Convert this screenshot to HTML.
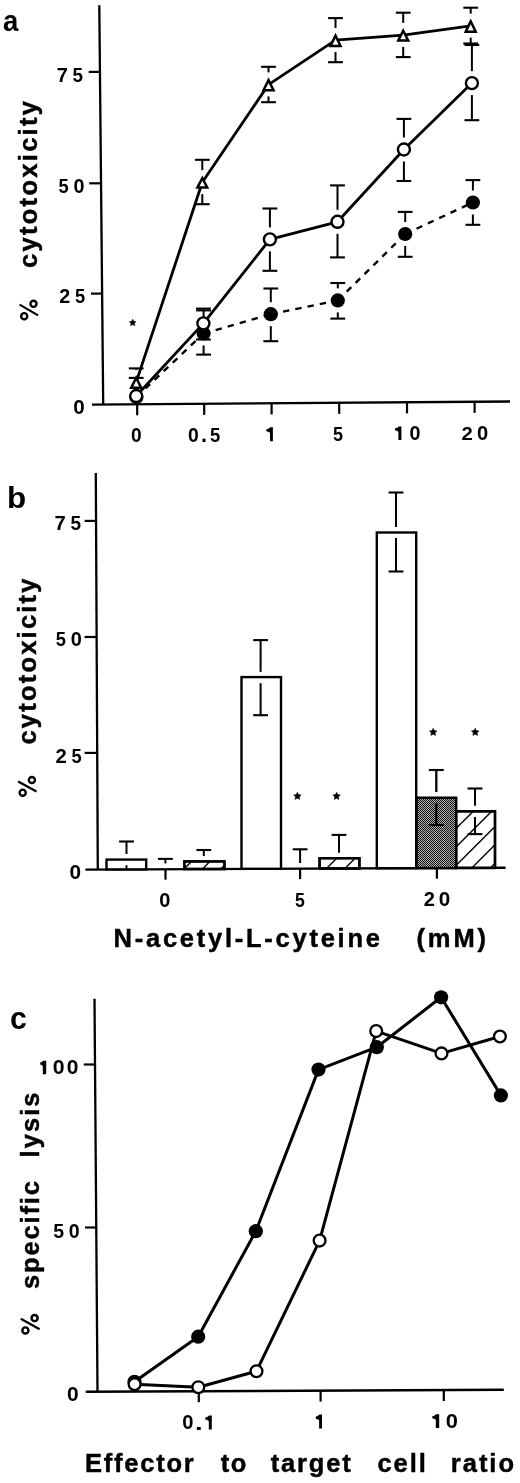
<!DOCTYPE html>
<html><head><meta charset="utf-8"><style>
html,body{margin:0;padding:0;background:#fff;}
body{width:520px;height:1483px;overflow:hidden;}
svg{display:block;will-change:transform;}
text{font-family:"Liberation Sans",sans-serif;font-weight:bold;fill:#000;stroke:#000;stroke-width:0.45px;}
</style></head><body>
<svg width="520" height="1483" viewBox="0 0 520 1483" font-family="Liberation Sans" font-weight="bold"><defs><pattern id="stip" patternUnits="userSpaceOnUse" x="0" y="0" width="2" height="2"><rect width="2" height="2" fill="#b0b0b0"/><rect width="1" height="1" fill="#111"/><rect x="1" y="1" width="1" height="1" fill="#111"/></pattern></defs><line x1="99.30" y1="5.20" x2="103.20" y2="404.60" stroke="#000" stroke-width="2.3" />
<line x1="92.00" y1="404.60" x2="510.00" y2="401.50" stroke="#000" stroke-width="2.4" />
<line x1="88.70" y1="71.90" x2="100.20" y2="71.90" stroke="#000" stroke-width="2.2" />
<line x1="89.20" y1="183.30" x2="100.80" y2="183.30" stroke="#000" stroke-width="2.2" />
<line x1="91.00" y1="293.60" x2="102.50" y2="293.60" stroke="#000" stroke-width="2.2" />
<line x1="137.20" y1="404.30" x2="137.20" y2="415.30" stroke="#000" stroke-width="2.2" />
<line x1="204.20" y1="403.90" x2="204.20" y2="414.90" stroke="#000" stroke-width="2.2" />
<line x1="271.60" y1="403.40" x2="271.60" y2="414.40" stroke="#000" stroke-width="2.2" />
<line x1="339.20" y1="402.90" x2="339.20" y2="413.90" stroke="#000" stroke-width="2.2" />
<line x1="407.00" y1="402.40" x2="407.00" y2="413.40" stroke="#000" stroke-width="2.2" />
<line x1="474.60" y1="401.90" x2="474.60" y2="412.90" stroke="#000" stroke-width="2.2" />
<line x1="136.20" y1="368.40" x2="136.20" y2="369.95" stroke="#000" stroke-width="2.0" />
<line x1="128.80" y1="368.40" x2="143.60" y2="368.40" stroke="#000" stroke-width="2.1" />
<line x1="202.30" y1="159.80" x2="202.30" y2="170.10" stroke="#000" stroke-width="2.0" />
<line x1="194.90" y1="159.80" x2="209.70" y2="159.80" stroke="#000" stroke-width="2.1" />
<line x1="202.30" y1="194.10" x2="202.30" y2="204.20" stroke="#000" stroke-width="2.0" />
<line x1="194.90" y1="204.20" x2="209.70" y2="204.20" stroke="#000" stroke-width="2.1" />
<line x1="268.50" y1="66.80" x2="268.50" y2="72.40" stroke="#000" stroke-width="2.0" />
<line x1="261.10" y1="66.80" x2="275.90" y2="66.80" stroke="#000" stroke-width="2.1" />
<line x1="268.50" y1="96.40" x2="268.50" y2="102.20" stroke="#000" stroke-width="2.0" />
<line x1="261.10" y1="102.20" x2="275.90" y2="102.20" stroke="#000" stroke-width="2.1" />
<line x1="335.50" y1="18.10" x2="335.50" y2="28.00" stroke="#000" stroke-width="2.0" />
<line x1="328.10" y1="18.10" x2="342.90" y2="18.10" stroke="#000" stroke-width="2.1" />
<line x1="335.50" y1="52.00" x2="335.50" y2="62.20" stroke="#000" stroke-width="2.0" />
<line x1="328.10" y1="62.20" x2="342.90" y2="62.20" stroke="#000" stroke-width="2.1" />
<line x1="403.20" y1="12.70" x2="403.20" y2="22.90" stroke="#000" stroke-width="2.0" />
<line x1="395.80" y1="12.70" x2="410.60" y2="12.70" stroke="#000" stroke-width="2.1" />
<line x1="403.20" y1="46.90" x2="403.20" y2="57.10" stroke="#000" stroke-width="2.0" />
<line x1="395.80" y1="57.10" x2="410.60" y2="57.10" stroke="#000" stroke-width="2.1" />
<line x1="470.70" y1="7.70" x2="470.70" y2="13.65" stroke="#000" stroke-width="2.0" />
<line x1="463.30" y1="7.70" x2="478.10" y2="7.70" stroke="#000" stroke-width="2.1" />
<line x1="470.70" y1="37.65" x2="470.70" y2="43.50" stroke="#000" stroke-width="2.0" />
<line x1="463.30" y1="43.50" x2="478.10" y2="43.50" stroke="#000" stroke-width="2.1" />
<line x1="136.20" y1="377.90" x2="136.20" y2="384.00" stroke="#000" stroke-width="2.0" />
<line x1="128.80" y1="377.90" x2="143.60" y2="377.90" stroke="#000" stroke-width="2.1" />
<line x1="203.40" y1="308.60" x2="203.40" y2="311.40" stroke="#000" stroke-width="2.0" />
<line x1="196.00" y1="308.60" x2="210.80" y2="308.60" stroke="#000" stroke-width="2.1" />
<line x1="203.40" y1="335.40" x2="203.40" y2="339.50" stroke="#000" stroke-width="2.0" />
<line x1="196.00" y1="339.50" x2="210.80" y2="339.50" stroke="#000" stroke-width="2.1" />
<line x1="269.90" y1="208.50" x2="269.90" y2="227.40" stroke="#000" stroke-width="2.0" />
<line x1="262.50" y1="208.50" x2="277.30" y2="208.50" stroke="#000" stroke-width="2.1" />
<line x1="269.90" y1="251.40" x2="269.90" y2="270.80" stroke="#000" stroke-width="2.0" />
<line x1="262.50" y1="270.80" x2="277.30" y2="270.80" stroke="#000" stroke-width="2.1" />
<line x1="337.50" y1="185.40" x2="337.50" y2="209.80" stroke="#000" stroke-width="2.0" />
<line x1="330.10" y1="185.40" x2="344.90" y2="185.40" stroke="#000" stroke-width="2.1" />
<line x1="337.50" y1="233.80" x2="337.50" y2="257.40" stroke="#000" stroke-width="2.0" />
<line x1="330.10" y1="257.40" x2="344.90" y2="257.40" stroke="#000" stroke-width="2.1" />
<line x1="403.90" y1="118.90" x2="403.90" y2="137.50" stroke="#000" stroke-width="2.0" />
<line x1="396.50" y1="118.90" x2="411.30" y2="118.90" stroke="#000" stroke-width="2.1" />
<line x1="403.90" y1="161.50" x2="403.90" y2="181.00" stroke="#000" stroke-width="2.0" />
<line x1="396.50" y1="181.00" x2="411.30" y2="181.00" stroke="#000" stroke-width="2.1" />
<line x1="471.90" y1="45.00" x2="471.90" y2="71.10" stroke="#000" stroke-width="2.0" />
<line x1="464.50" y1="45.00" x2="479.30" y2="45.00" stroke="#000" stroke-width="2.1" />
<line x1="471.90" y1="95.10" x2="471.90" y2="120.20" stroke="#000" stroke-width="2.0" />
<line x1="464.50" y1="120.20" x2="479.30" y2="120.20" stroke="#000" stroke-width="2.1" />
<line x1="203.60" y1="310.40" x2="203.60" y2="321.50" stroke="#000" stroke-width="2.0" />
<line x1="196.20" y1="310.40" x2="211.00" y2="310.40" stroke="#000" stroke-width="2.1" />
<line x1="203.60" y1="345.50" x2="203.60" y2="354.60" stroke="#000" stroke-width="2.0" />
<line x1="196.20" y1="354.60" x2="211.00" y2="354.60" stroke="#000" stroke-width="2.1" />
<line x1="270.80" y1="288.50" x2="270.80" y2="302.20" stroke="#000" stroke-width="2.0" />
<line x1="263.40" y1="288.50" x2="278.20" y2="288.50" stroke="#000" stroke-width="2.1" />
<line x1="270.80" y1="326.20" x2="270.80" y2="341.20" stroke="#000" stroke-width="2.0" />
<line x1="263.40" y1="341.20" x2="278.20" y2="341.20" stroke="#000" stroke-width="2.1" />
<line x1="337.80" y1="283.00" x2="337.80" y2="288.40" stroke="#000" stroke-width="2.0" />
<line x1="330.40" y1="283.00" x2="345.20" y2="283.00" stroke="#000" stroke-width="2.1" />
<line x1="337.80" y1="312.40" x2="337.80" y2="318.60" stroke="#000" stroke-width="2.0" />
<line x1="330.40" y1="318.60" x2="345.20" y2="318.60" stroke="#000" stroke-width="2.1" />
<line x1="405.20" y1="211.90" x2="405.20" y2="222.00" stroke="#000" stroke-width="2.0" />
<line x1="397.80" y1="211.90" x2="412.60" y2="211.90" stroke="#000" stroke-width="2.1" />
<line x1="405.20" y1="246.00" x2="405.20" y2="256.80" stroke="#000" stroke-width="2.0" />
<line x1="397.80" y1="256.80" x2="412.60" y2="256.80" stroke="#000" stroke-width="2.1" />
<line x1="472.90" y1="180.10" x2="472.90" y2="190.50" stroke="#000" stroke-width="2.0" />
<line x1="465.50" y1="180.10" x2="480.30" y2="180.10" stroke="#000" stroke-width="2.1" />
<line x1="472.90" y1="214.50" x2="472.90" y2="224.80" stroke="#000" stroke-width="2.0" />
<line x1="465.50" y1="224.80" x2="480.30" y2="224.80" stroke="#000" stroke-width="2.1" />
<line x1="136.40" y1="397.00" x2="203.60" y2="333.50" stroke="#000" stroke-width="2.4" stroke-dasharray="6.4 6.1"/>
<line x1="203.60" y1="333.50" x2="270.80" y2="314.20" stroke="#000" stroke-width="2.4" stroke-dasharray="6.4 6.1"/>
<line x1="270.80" y1="314.20" x2="337.80" y2="300.40" stroke="#000" stroke-width="2.4" stroke-dasharray="6.4 6.1"/>
<line x1="337.80" y1="300.40" x2="405.20" y2="234.00" stroke="#000" stroke-width="2.4" stroke-dasharray="6.4 6.1"/>
<line x1="405.20" y1="234.00" x2="472.90" y2="202.50" stroke="#000" stroke-width="2.4" stroke-dasharray="6.4 6.1"/>
<circle cx="136.40" cy="397.00" r="7.1" fill="#000"/>
<circle cx="203.60" cy="333.50" r="7.1" fill="#000"/>
<circle cx="270.80" cy="314.20" r="7.1" fill="#000"/>
<circle cx="337.80" cy="300.40" r="7.1" fill="#000"/>
<circle cx="405.20" cy="234.00" r="7.1" fill="#000"/>
<circle cx="472.90" cy="202.50" r="7.1" fill="#000"/>
<polyline points="136.20,396.00 203.40,323.40 269.90,239.40 337.50,221.80 403.90,149.50 471.90,83.10" fill="none" stroke="#000" stroke-width="2.8" stroke-linejoin="round" />
<polyline points="136.20,382.15 202.30,182.30 268.50,84.60 335.50,40.20 403.20,35.10 470.70,25.85" fill="none" stroke="#000" stroke-width="2.8" stroke-linejoin="round" />
<circle cx="136.20" cy="396.00" r="6.0" fill="#fff" stroke="#000" stroke-width="2.4"/>
<circle cx="203.40" cy="323.40" r="6.0" fill="#fff" stroke="#000" stroke-width="2.4"/>
<circle cx="269.90" cy="239.40" r="6.0" fill="#fff" stroke="#000" stroke-width="2.4"/>
<circle cx="337.50" cy="221.80" r="6.0" fill="#fff" stroke="#000" stroke-width="2.4"/>
<circle cx="403.90" cy="149.50" r="6.0" fill="#fff" stroke="#000" stroke-width="2.4"/>
<circle cx="471.90" cy="83.10" r="6.0" fill="#fff" stroke="#000" stroke-width="2.4"/>
<polygon points="136.20,375.00 129.20,388.90 143.20,388.90" fill="#000"/>
<polygon points="136.20,380.56 133.26,386.40 139.14,386.40" fill="#fff"/>
<polygon points="202.30,175.40 195.30,188.80 209.30,188.80" fill="#000"/>
<polygon points="202.30,180.80 199.43,186.30 205.17,186.30" fill="#fff"/>
<polygon points="268.50,77.30 261.50,91.50 275.50,91.50" fill="#000"/>
<polygon points="268.50,82.95 265.52,89.00 271.48,89.00" fill="#fff"/>
<polygon points="335.50,32.80 328.50,47.20 342.50,47.20" fill="#000"/>
<polygon points="335.50,38.52 332.50,44.70 338.50,44.70" fill="#fff"/>
<polygon points="403.20,28.00 396.20,41.80 410.20,41.80" fill="#000"/>
<polygon points="403.20,33.53 400.27,39.30 406.13,39.30" fill="#fff"/>
<polygon points="470.70,18.40 463.70,32.90 477.70,32.90" fill="#000"/>
<polygon points="470.70,24.15 467.68,30.40 473.72,30.40" fill="#fff"/>
<polygon points="132.70,319.15 133.76,321.29 136.12,321.64 134.41,323.31 134.82,325.66 132.70,324.55 130.58,325.66 130.99,323.31 129.28,321.64 131.64,321.29" fill="#000" stroke="#000" stroke-width="0.5" stroke-linejoin="round"/>
<text transform="translate(2.99,31.21) scale(0.9154,1)" font-size="30.12" style="stroke-width:0.0px">a</text>
<text transform="translate(56.84,82.00) scale(1.0134,1)" font-size="19.77" style="stroke-width:0.0px">7</text>
<text transform="translate(72.62,82.11) scale(0.9484,1)" font-size="19.92" style="stroke-width:0.0px">5</text>
<text transform="translate(58.44,192.61) scale(0.9247,1)" font-size="19.78" style="stroke-width:0.0px">5</text>
<text transform="translate(73.42,192.60) scale(0.9718,1)" font-size="20.34" style="stroke-width:0.0px">0</text>
<text transform="translate(59.32,303.20) scale(0.9984,1)" font-size="19.76" style="stroke-width:0.0px">2</text>
<text transform="translate(74.94,303.31) scale(0.9181,1)" font-size="19.92" style="stroke-width:0.0px">5</text>
<text transform="translate(73.29,413.61) scale(1.0421,1)" font-size="19.77" style="stroke-width:0.0px">0</text>
<text transform="translate(130.94,441.81) scale(0.9677,1)" font-size="19.77" style="stroke-width:0.0px">0</text>
<text transform="translate(187.93,441.51) scale(0.9853,1)" font-size="19.63" style="stroke-width:0.0px">0</text>
<text transform="translate(201.01,441.70) scale(1.0224,1)" font-size="21.49" style="stroke-width:0.0px">.</text>
<text transform="translate(210.03,441.51) scale(0.9282,1)" font-size="19.92" style="stroke-width:0.0px">5</text>
<path d="M272.90,441.20 L270.00,441.20 L270.00,432.80 C269.20,431.96 267.20,431.40 266.40,431.26 L266.40,429.16 C268.20,428.88 269.70,428.04 270.20,427.20 L272.90,427.20 Z" fill="#000" stroke="#000" stroke-width="0.0"/>
<text transform="translate(333.04,440.50) scale(0.8951,1)" font-size="20.21" style="stroke-width:0.0px">5</text>
<path d="M401.40,440.00 L398.40,440.00 L398.40,431.84 C397.60,431.02 395.80,430.48 395.00,430.34 L395.00,428.30 C396.80,428.03 398.10,427.22 398.60,426.40 L401.40,426.40 Z" fill="#000" stroke="#000" stroke-width="0.0"/>
<text transform="translate(409.42,440.11) scale(0.9925,1)" font-size="19.92" style="stroke-width:0.0px">0</text>
<text transform="translate(461.59,439.60) scale(1.0607,1)" font-size="19.19" style="stroke-width:0.0px">2</text>
<text transform="translate(476.90,439.81) scale(1.0208,1)" font-size="19.77" style="stroke-width:0.0px">0</text>
<circle cx="33.50" cy="303.80" r="3.05" fill="none" stroke="#000" stroke-width="2.4"/>
<circle cx="24.20" cy="316.20" r="3.05" fill="none" stroke="#000" stroke-width="2.4"/>
<line x1="19.60" y1="304.60" x2="38.10" y2="315.40" stroke="#000" stroke-width="2.2" stroke-linecap="butt"/>
<text transform="translate(37.20,268.00) rotate(-90)" font-size="25.5" textLength="167.00" lengthAdjust="spacing">cytotoxicity</text>
<line x1="95.80" y1="473.10" x2="97.80" y2="869.70" stroke="#000" stroke-width="2.3" />
<line x1="85.50" y1="869.60" x2="505.60" y2="867.80" stroke="#000" stroke-width="2.4" />
<line x1="84.60" y1="520.90" x2="95.80" y2="520.90" stroke="#000" stroke-width="2.2" />
<line x1="84.60" y1="637.00" x2="96.30" y2="637.00" stroke="#000" stroke-width="2.2" />
<line x1="84.60" y1="752.90" x2="96.70" y2="752.90" stroke="#000" stroke-width="2.2" />
<line x1="165.50" y1="869.20" x2="165.50" y2="879.70" stroke="#000" stroke-width="2.2" />
<line x1="300.10" y1="868.60" x2="300.10" y2="879.10" stroke="#000" stroke-width="2.2" />
<line x1="436.90" y1="868.20" x2="436.90" y2="878.70" stroke="#000" stroke-width="2.2" />
<rect x="106.50" y="859.60" width="39.70" height="9.80" fill="#fff" stroke="#000" stroke-width="2.4"/>
<rect x="184.40" y="861.40" width="40.00" height="7.60" fill="#fff" stroke="#000" stroke-width="2.4"/>
<clipPath id="clip139"><rect x="184.40" y="861.40" width="40.00" height="7.60"/></clipPath>
<g clip-path="url(#clip139)"><line x1="160.60" y1="874.00" x2="178.20" y2="856.40" stroke="#000" stroke-width="1.4"/><line x1="179.00" y1="874.00" x2="196.60" y2="856.40" stroke="#000" stroke-width="1.4"/><line x1="197.40" y1="874.00" x2="215.00" y2="856.40" stroke="#000" stroke-width="1.4"/><line x1="215.80" y1="874.00" x2="233.40" y2="856.40" stroke="#000" stroke-width="1.4"/><line x1="234.20" y1="874.00" x2="251.80" y2="856.40" stroke="#000" stroke-width="1.4"/></g>
<rect x="184.40" y="861.40" width="40.00" height="7.60" fill="none" stroke="#000" stroke-width="2.4"/>
<rect x="241.50" y="677.10" width="39.50" height="191.70" fill="#fff" stroke="#000" stroke-width="2.4"/>
<rect x="319.60" y="858.20" width="39.80" height="10.20" fill="#fff" stroke="#000" stroke-width="2.4"/>
<clipPath id="clip144"><rect x="319.60" y="858.20" width="39.80" height="10.20"/></clipPath>
<g clip-path="url(#clip144)"><line x1="284.80" y1="873.40" x2="305.00" y2="853.20" stroke="#000" stroke-width="1.4"/><line x1="303.20" y1="873.40" x2="323.40" y2="853.20" stroke="#000" stroke-width="1.4"/><line x1="321.60" y1="873.40" x2="341.80" y2="853.20" stroke="#000" stroke-width="1.4"/><line x1="340.00" y1="873.40" x2="360.20" y2="853.20" stroke="#000" stroke-width="1.4"/><line x1="358.40" y1="873.40" x2="378.60" y2="853.20" stroke="#000" stroke-width="1.4"/></g>
<rect x="319.60" y="858.20" width="39.80" height="10.20" fill="none" stroke="#000" stroke-width="2.4"/>
<rect x="376.80" y="532.50" width="39.40" height="335.70" fill="#fff" stroke="#000" stroke-width="2.4"/>
<rect x="416.60" y="797.70" width="39.60" height="70.40" fill="url(#stip)" stroke="#000" stroke-width="2.4"/>
<rect x="456.20" y="811.30" width="38.80" height="56.60" fill="#fff" stroke="#000" stroke-width="2.4"/>
<clipPath id="clip150"><rect x="456.20" y="811.30" width="38.80" height="56.60"/></clipPath>
<g clip-path="url(#clip150)"><line x1="374.90" y1="872.90" x2="441.50" y2="806.30" stroke="#000" stroke-width="1.4"/><line x1="393.30" y1="872.90" x2="459.90" y2="806.30" stroke="#000" stroke-width="1.4"/><line x1="411.70" y1="872.90" x2="478.30" y2="806.30" stroke="#000" stroke-width="1.4"/><line x1="430.10" y1="872.90" x2="496.70" y2="806.30" stroke="#000" stroke-width="1.4"/><line x1="448.50" y1="872.90" x2="515.10" y2="806.30" stroke="#000" stroke-width="1.4"/><line x1="466.90" y1="872.90" x2="533.50" y2="806.30" stroke="#000" stroke-width="1.4"/><line x1="485.30" y1="872.90" x2="551.90" y2="806.30" stroke="#000" stroke-width="1.4"/><line x1="503.70" y1="872.90" x2="570.30" y2="806.30" stroke="#000" stroke-width="1.4"/></g>
<rect x="456.20" y="811.30" width="38.80" height="56.60" fill="none" stroke="#000" stroke-width="2.4"/>
<line x1="126.50" y1="841.50" x2="126.50" y2="854.00" stroke="#000" stroke-width="2.0" />
<line x1="119.10" y1="841.50" x2="133.90" y2="841.50" stroke="#000" stroke-width="2.1" />
<line x1="126.50" y1="865.20" x2="126.50" y2="869.00" stroke="#000" stroke-width="1.9" />
<line x1="165.40" y1="858.90" x2="165.40" y2="863.40" stroke="#000" stroke-width="2.0" />
<line x1="158.00" y1="858.90" x2="172.80" y2="858.90" stroke="#000" stroke-width="2.1" />
<line x1="203.80" y1="850.00" x2="203.80" y2="856.00" stroke="#000" stroke-width="2.0" />
<line x1="196.40" y1="850.00" x2="211.20" y2="850.00" stroke="#000" stroke-width="2.1" />
<line x1="260.60" y1="640.10" x2="260.60" y2="671.90" stroke="#000" stroke-width="2.0" />
<line x1="253.20" y1="640.10" x2="268.00" y2="640.10" stroke="#000" stroke-width="2.1" />
<line x1="260.60" y1="683.10" x2="260.60" y2="715.20" stroke="#000" stroke-width="2.0" />
<line x1="253.20" y1="715.20" x2="268.00" y2="715.20" stroke="#000" stroke-width="2.1" />
<line x1="300.10" y1="849.30" x2="300.10" y2="863.00" stroke="#000" stroke-width="2.0" />
<line x1="292.70" y1="849.30" x2="307.50" y2="849.30" stroke="#000" stroke-width="2.1" />
<line x1="339.00" y1="834.90" x2="339.00" y2="852.80" stroke="#000" stroke-width="2.0" />
<line x1="331.60" y1="834.90" x2="346.40" y2="834.90" stroke="#000" stroke-width="2.1" />
<line x1="396.00" y1="492.50" x2="396.00" y2="526.90" stroke="#000" stroke-width="2.0" />
<line x1="388.60" y1="492.50" x2="403.40" y2="492.50" stroke="#000" stroke-width="2.1" />
<line x1="396.00" y1="538.10" x2="396.00" y2="571.50" stroke="#000" stroke-width="2.0" />
<line x1="388.60" y1="571.50" x2="403.40" y2="571.50" stroke="#000" stroke-width="2.1" />
<line x1="436.30" y1="770.00" x2="436.30" y2="792.10" stroke="#000" stroke-width="2.3" />
<line x1="428.90" y1="770.00" x2="443.70" y2="770.00" stroke="#000" stroke-width="2.1" />
<line x1="436.30" y1="803.30" x2="436.30" y2="825.00" stroke="#000" stroke-width="2.3" />
<line x1="428.90" y1="825.00" x2="443.70" y2="825.00" stroke="#000" stroke-width="2.1" />
<line x1="475.00" y1="788.50" x2="475.00" y2="805.70" stroke="#000" stroke-width="2.0" />
<line x1="467.60" y1="788.50" x2="482.40" y2="788.50" stroke="#000" stroke-width="2.1" />
<line x1="475.00" y1="816.90" x2="475.00" y2="834.10" stroke="#000" stroke-width="2.0" />
<line x1="467.60" y1="834.10" x2="482.40" y2="834.10" stroke="#000" stroke-width="2.1" />
<polygon points="297.40,792.20 298.58,794.58 301.20,794.96 299.30,796.82 299.75,799.44 297.40,798.20 295.05,799.44 295.50,796.82 293.60,794.96 296.22,794.58" fill="#000" stroke="#000" stroke-width="0.5" stroke-linejoin="round"/>
<polygon points="336.60,792.20 337.78,794.58 340.40,794.96 338.50,796.82 338.95,799.44 336.60,798.20 334.25,799.44 334.70,796.82 332.80,794.96 335.42,794.58" fill="#000" stroke="#000" stroke-width="0.5" stroke-linejoin="round"/>
<polygon points="433.20,728.20 434.38,730.58 437.00,730.96 435.10,732.82 435.55,735.44 433.20,734.20 430.85,735.44 431.30,732.82 429.40,730.96 432.02,730.58" fill="#000" stroke="#000" stroke-width="0.5" stroke-linejoin="round"/>
<polygon points="475.20,728.20 476.38,730.58 479.00,730.96 477.10,732.82 477.55,735.44 475.20,734.20 472.85,735.44 473.30,732.82 471.40,730.96 474.02,730.58" fill="#000" stroke="#000" stroke-width="0.5" stroke-linejoin="round"/>
<text transform="translate(7.03,508.31) scale(1.0514,1)" font-size="29.82" style="stroke-width:0.0px">b</text>
<text transform="translate(54.43,530.00) scale(1.0395,1)" font-size="19.48" style="stroke-width:0.0px">7</text>
<text transform="translate(70.41,530.01) scale(0.9796,1)" font-size="19.49" style="stroke-width:0.0px">5</text>
<text transform="translate(55.74,646.11) scale(0.9315,1)" font-size="19.63" style="stroke-width:0.0px">5</text>
<text transform="translate(70.81,646.30) scale(0.9821,1)" font-size="20.34" style="stroke-width:0.0px">0</text>
<text transform="translate(55.59,763.00) scale(1.0374,1)" font-size="19.62" style="stroke-width:0.0px">2</text>
<text transform="translate(71.44,763.01) scale(0.9315,1)" font-size="19.63" style="stroke-width:0.0px">5</text>
<text transform="translate(69.58,879.10) scale(1.0379,1)" font-size="20.06" style="stroke-width:0.0px">0</text>
<text transform="translate(159.31,907.41) scale(1.0248,1)" font-size="19.49" style="stroke-width:0.0px">0</text>
<text transform="translate(295.06,907.00) scale(0.8570,1)" font-size="20.64" style="stroke-width:0.0px">5</text>
<text transform="translate(423.70,905.90) scale(1.0269,1)" font-size="19.62" style="stroke-width:0.0px">2</text>
<text transform="translate(438.79,905.81) scale(1.0421,1)" font-size="19.77" style="stroke-width:0.0px">0</text>
<text x="113.60" y="947.10" font-size="25.5" textLength="266.30" lengthAdjust="spacing" >N-acetyl-L-cyteine</text>
<text x="416.50" y="947.10" font-size="25.5" textLength="69.50" lengthAdjust="spacing" >(mM)</text>
<circle cx="31.90" cy="780.00" r="3.05" fill="none" stroke="#000" stroke-width="2.4"/>
<circle cx="22.70" cy="792.70" r="3.05" fill="none" stroke="#000" stroke-width="2.4"/>
<line x1="18.10" y1="781.50" x2="36.50" y2="791.50" stroke="#000" stroke-width="2.2" stroke-linecap="butt"/>
<text transform="translate(36.00,744.50) rotate(-90)" font-size="25.5" textLength="166.00" lengthAdjust="spacing">cytotoxicity</text>
<line x1="94.50" y1="998.75" x2="97.50" y2="1391.75" stroke="#000" stroke-width="2.3" />
<line x1="85.75" y1="1391.80" x2="503.80" y2="1389.80" stroke="#000" stroke-width="2.4" />
<line x1="83.75" y1="1064.50" x2="94.90" y2="1064.50" stroke="#000" stroke-width="2.2" />
<line x1="85.00" y1="1227.50" x2="95.90" y2="1227.50" stroke="#000" stroke-width="2.2" />
<line x1="198.80" y1="1391.20" x2="198.80" y2="1402.20" stroke="#000" stroke-width="2.2" />
<line x1="320.60" y1="1390.60" x2="320.60" y2="1401.60" stroke="#000" stroke-width="2.2" />
<line x1="443.80" y1="1390.00" x2="443.80" y2="1401.00" stroke="#000" stroke-width="2.2" />
<polyline points="134.50,1381.80 198.20,1336.70 255.80,1231.20 318.50,1069.60 376.80,1047.20 441.10,997.30 500.90,1095.40" fill="none" stroke="#000" stroke-width="3.0" stroke-linejoin="round" />
<polyline points="134.60,1384.20 198.30,1387.20 256.50,1371.20 319.60,1240.60 376.20,1031.10 441.50,1053.40 499.90,1036.50" fill="none" stroke="#000" stroke-width="3.0" stroke-linejoin="round" />
<circle cx="134.50" cy="1381.80" r="7.1" fill="#000"/>
<circle cx="198.20" cy="1336.70" r="7.1" fill="#000"/>
<circle cx="255.80" cy="1231.20" r="7.1" fill="#000"/>
<circle cx="318.50" cy="1069.60" r="7.1" fill="#000"/>
<circle cx="376.80" cy="1047.20" r="7.1" fill="#000"/>
<circle cx="441.10" cy="997.30" r="7.1" fill="#000"/>
<circle cx="500.90" cy="1095.40" r="7.1" fill="#000"/>
<circle cx="134.60" cy="1384.20" r="5.9" fill="#fff" stroke="#000" stroke-width="2.3"/>
<circle cx="198.30" cy="1387.20" r="5.9" fill="#fff" stroke="#000" stroke-width="2.3"/>
<circle cx="256.50" cy="1371.20" r="5.9" fill="#fff" stroke="#000" stroke-width="2.3"/>
<circle cx="319.60" cy="1240.60" r="5.9" fill="#fff" stroke="#000" stroke-width="2.3"/>
<circle cx="376.20" cy="1031.10" r="5.9" fill="#fff" stroke="#000" stroke-width="2.3"/>
<circle cx="441.50" cy="1053.40" r="5.9" fill="#fff" stroke="#000" stroke-width="2.3"/>
<circle cx="499.90" cy="1036.50" r="5.9" fill="#fff" stroke="#000" stroke-width="2.3"/>
<text transform="translate(9.91,1028.60) scale(0.9894,1)" font-size="30.67" style="stroke-width:0.0px">c</text>
<path d="M46.20,1074.20 L42.80,1074.20 L42.80,1066.10 C42.00,1065.29 41.00,1064.75 40.20,1064.62 L40.20,1062.59 C42.00,1062.32 42.50,1061.51 43.00,1060.70 L46.20,1060.70 Z" fill="#000" stroke="#000" stroke-width="0.0"/>
<text transform="translate(52.66,1074.31) scale(1.0740,1)" font-size="19.77" style="stroke-width:0.0px">0</text>
<text transform="translate(66.77,1074.31) scale(1.0634,1)" font-size="19.77" style="stroke-width:0.0px">0</text>
<text transform="translate(53.30,1237.91) scale(1.0002,1)" font-size="19.49" style="stroke-width:0.0px">5</text>
<text transform="translate(68.73,1238.11) scale(0.9819,1)" font-size="19.92" style="stroke-width:0.0px">0</text>
<text transform="translate(67.07,1401.30) scale(1.0197,1)" font-size="20.62" style="stroke-width:0.0px">0</text>
<text transform="translate(182.20,1429.40) scale(1.0064,1)" font-size="20.06" style="stroke-width:0.0px">0</text>
<text transform="translate(194.92,1429.60) scale(1.3277,1)" font-size="20.82" style="stroke-width:0.0px">.</text>
<path d="M211.80,1429.40 L208.80,1429.40 L208.80,1421.00 C208.00,1420.16 206.10,1419.60 205.30,1419.46 L205.30,1417.36 C207.10,1417.08 208.50,1416.24 209.00,1415.40 L211.80,1415.40 Z" fill="#000" stroke="#000" stroke-width="0.0"/>
<path d="M322.00,1428.50 L319.10,1428.50 L319.10,1420.16 C318.30,1419.33 316.60,1418.77 315.80,1418.63 L315.80,1416.55 C317.60,1416.27 318.80,1415.43 319.30,1414.60 L322.00,1414.60 Z" fill="#000" stroke="#000" stroke-width="0.0"/>
<path d="M439.20,1428.10 L435.80,1428.10 L435.80,1419.76 C435.00,1418.93 433.10,1418.37 432.30,1418.23 L432.30,1416.15 C434.10,1415.87 435.50,1415.03 436.00,1414.20 L439.20,1414.20 Z" fill="#000" stroke="#000" stroke-width="0.0"/>
<text transform="translate(445.64,1428.30) scale(1.0827,1)" font-size="20.20" style="stroke-width:0.0px">0</text>
<text x="85.10" y="1472.10" font-size="25.5" textLength="108.60" lengthAdjust="spacing" >Effector</text>
<text x="220.70" y="1472.10" font-size="25.5" textLength="25.60" lengthAdjust="spacing" >to</text>
<text x="270.70" y="1472.10" font-size="25.5" textLength="80.00" lengthAdjust="spacing" >target</text>
<text x="377.40" y="1472.10" font-size="25.5" textLength="48.40" lengthAdjust="spacing" >cell</text>
<text x="450.80" y="1472.10" font-size="25.5" textLength="63.20" lengthAdjust="spacing" >ratio</text>
<circle cx="34.60" cy="1318.10" r="3.05" fill="none" stroke="#000" stroke-width="2.4"/>
<circle cx="25.40" cy="1330.40" r="3.05" fill="none" stroke="#000" stroke-width="2.4"/>
<line x1="20.80" y1="1318.80" x2="39.60" y2="1329.20" stroke="#000" stroke-width="2.2" stroke-linecap="butt"/>
<text transform="translate(38.70,1289.00) rotate(-90)" font-size="25.5" textLength="108.00" lengthAdjust="spacing">specific</text>
<text transform="translate(38.70,1157.50) rotate(-90)" font-size="25.5" textLength="65.00" lengthAdjust="spacing">lysis</text></svg>
</body></html>
